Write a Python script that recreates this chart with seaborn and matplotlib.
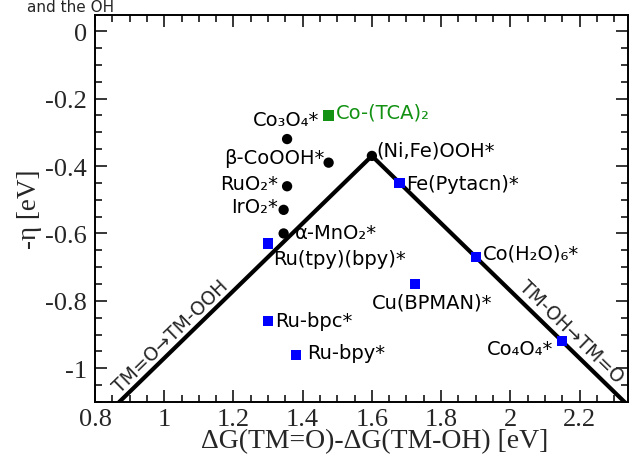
import numpy as np
import pandas as pd
import matplotlib
matplotlib.use("Agg")
import matplotlib.pyplot as plt
from matplotlib.ticker import MultipleLocator, FuncFormatter
import seaborn as sns

# ---- data ----
names = ["Co₃O₄*", "β-CoOOH*", "RuO₂*", "IrO₂*", "α-MnO₂*", "(Ni,Fe)OOH*",
         "Co-(TCA)₂", "Fe(Pytacn)*", "Ru(tpy)(bpy)*", "Cu(BPMAN)*", "Ru-bpc*",
         "Ru-bpy*", "Co(H₂O)₆*", "Co₄O₄*"]
dG = [1.355, 1.475, 1.355, 1.345, 1.345, 1.60,
      1.475, 1.68, 1.30, 1.725, 1.30, 1.38, 1.90, 2.15]
eta = [-0.32, -0.39, -0.46, -0.53, -0.60, -0.37,
       -0.25, -0.45, -0.63, -0.75, -0.86, -0.96, -0.67, -0.92]
kind = ["oxide", "oxide", "oxide", "oxide", "oxide", "oxide",
        "Co-TCA", "molecular", "molecular", "molecular", "molecular",
        "molecular", "molecular", "molecular"]

# volcano limiting lines
volcano_x = [0.83, 1.60, 2.37]
volcano_y = [-1.14, -0.37, -1.14]

xticks = [0.8, 1.0, 1.2, 1.4, 1.6, 1.8, 2.0, 2.2]
yticks = [0.0, -0.2, -0.4, -0.6, -0.8, -1.0]

df = pd.DataFrame({"dG": dG, "eta": eta, "kind": kind, "name": names})
vdf = pd.DataFrame({"x": volcano_x, "y": volcano_y})

sns.set_theme(style="ticks")
plt.rcParams["font.family"] = ["DejaVu Sans"]
plt.rcParams["axes.unicode_minus"] = False

fig = plt.figure(figsize=(6.3, 4.56), dpi=100)
ax = fig.add_axes([95 / 630, 1 - 403 / 456, 533 / 630, 387 / 456])

sns.lineplot(data=vdf, x="x", y="y", ax=ax, color="black", lw=3, sort=False,
             estimator=None, zorder=2)

palette = {"oxide": "black", "Co-TCA": "#129112", "molecular": "#0000ff"}
markers = {"oxide": "o", "Co-TCA": "s", "molecular": "s"}
sns.scatterplot(data=df, x="dG", y="eta", hue="kind", style="kind",
                palette=palette, markers=markers, s=55, linewidth=0,
                legend=False, ax=ax, zorder=3)

ax.set_xlim(0.8, 2.34)
ax.set_ylim(-1.1, 0.048)

# label anchor positions
label_cfg = {
    "Co₃O₄*": (1.449, -0.263, "right"),
    "β-CoOOH*": (1.464, -0.374, "right"),
    "RuO₂*": (1.328, -0.451, "right"),
    "IrO₂*": (1.330, -0.519, "right"),
    "α-MnO₂*": (1.377, -0.596, "left"),
    "(Ni,Fe)OOH*": (1.614, -0.353, "left"),
    "Co-(TCA)₂": (1.496, -0.240, "left"),
    "Fe(Pytacn)*": (1.699, -0.451, "left"),
    "Ru(tpy)(bpy)*": (1.316, -0.674, "left"),
    "Cu(BPMAN)*": (1.600, -0.804, "left"),
    "Ru-bpc*": (1.319, -0.857, "left"),
    "Ru-bpy*": (1.412, -0.953, "left"),
    "Co(H₂O)₆*": (1.922, -0.659, "left"),
    "Co₄O₄*": (2.125, -0.941, "right"),
}
for nm, k in zip(names, kind):
    tx, ty, ha = label_cfg[nm]
    ax.text(tx, ty, nm, ha=ha, va="center", fontsize=14,
            color=palette[k] if k == "Co-TCA" else "black", zorder=4)

ax.text(1.02, -0.905, "TM=O→TM-OOH", rotation=44.3, ha="center",
        va="center", fontsize=13.5, rotation_mode="anchor")
ax.text(2.177, -0.89, "TM-OH→TM=O", rotation=-44.3, ha="center",
        va="center", fontsize=13.5, rotation_mode="anchor")

serif = ["Liberation Serif", "DejaVu Serif"]
ax.set_xticks(xticks)
ax.set_yticks(yticks)
fmt = FuncFormatter(lambda v, p: ("%g" % round(v, 3)) if abs(v) > 1e-9 else "0")
ax.xaxis.set_major_formatter(fmt)
ax.yaxis.set_major_formatter(fmt)
ax.xaxis.set_minor_locator(MultipleLocator(0.05))
ax.yaxis.set_minor_locator(MultipleLocator(0.05))
ax.tick_params(which="both", direction="in", top=True, right=True,
               width=1.1, color="black")
ax.tick_params(which="major", length=8.5)
ax.tick_params(which="minor", length=5)
ax.tick_params(axis="x", which="major", pad=4)
ax.tick_params(axis="y", which="major", pad=6)
for lbl in ax.get_xticklabels() + ax.get_yticklabels():
    lbl.set_family(serif)
    lbl.set_fontsize(19)
for sp in ax.spines.values():
    sp.set_linewidth(1.4)
    sp.set_color("black")

ax.set_xlabel("ΔG(TM=O)-ΔG(TM-OH) [eV]", family=serif, fontsize=20)
ax.xaxis.set_label_coords((375 - 95) / 533, -0.068)
ax.set_ylabel("-η [eV]", family=serif, fontsize=19.5, labelpad=2)

fig.text(27 / 630, 1.0, "and the OH", ha="left", va="top", fontsize=11)

fig.savefig("out.png", dpi=100)
